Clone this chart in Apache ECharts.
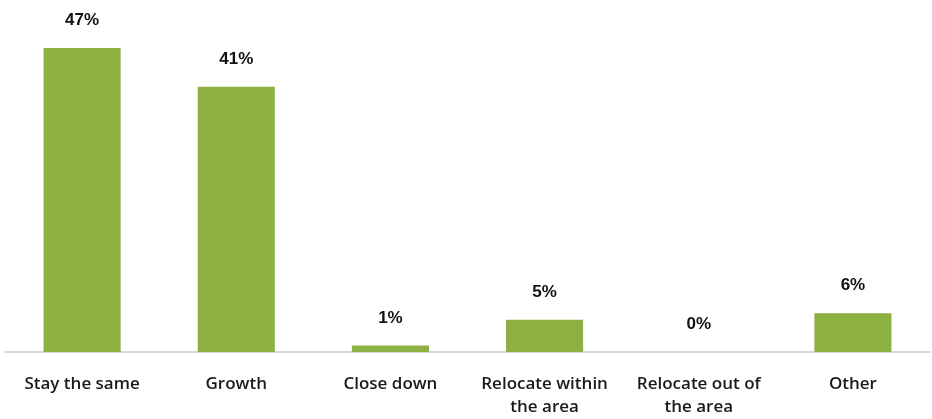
<!DOCTYPE html>
<html>
<head>
<meta charset="utf-8">
<script src="https://cdn.jsdelivr.net/npm/echarts@6/dist/echarts.min.js"></script>
<style>
  html, body { margin: 0; padding: 0; background: #fff; }
  #chart { width: 932px; height: 419px; }
</style>
</head>
<body>
<div id="chart"></div>
<script>
// Expected business outcome, share of respondents
const categories = ['Stay the same', 'Growth', 'Close down', 'Relocate within\nthe area', 'Relocate out of\nthe area', 'Other'];
const shares = [47, 41, 1, 5, 0, 6];

const chart = echarts.init(document.getElementById('chart'));
chart.setOption({
  animation: false,
  grid: { left: 5, right: 2, top: 48, bottom: 67 },
  xAxis: {
    type: 'category',
    data: categories,
    axisLine: { lineStyle: { color: '#d9d9d9', width: 2 } },
    axisTick: { show: false },
    axisLabel: {
      color: '#1a1a1a',
      fontFamily: 'Open Sans',
      fontSize: 17,
      fontWeight: 600,
      lineHeight: 23,
      margin: 21,
      interval: 0
    }
  },
  yAxis: { type: 'value', min: 0, max: 47, show: false, splitLine: { show: false } },
  series: [{
    type: 'bar',
    data: shares,
    barWidth: '50%',
    itemStyle: { color: '#8cb041' },
    label: {
      show: true,
      position: 'top',
      distance: 19,
      formatter: '{c}%',
      color: '#111',
      fontFamily: 'Liberation Sans',
      fontSize: 17,
      fontWeight: 'bold'
    }
  }]
});
</script>
</body>
</html>
